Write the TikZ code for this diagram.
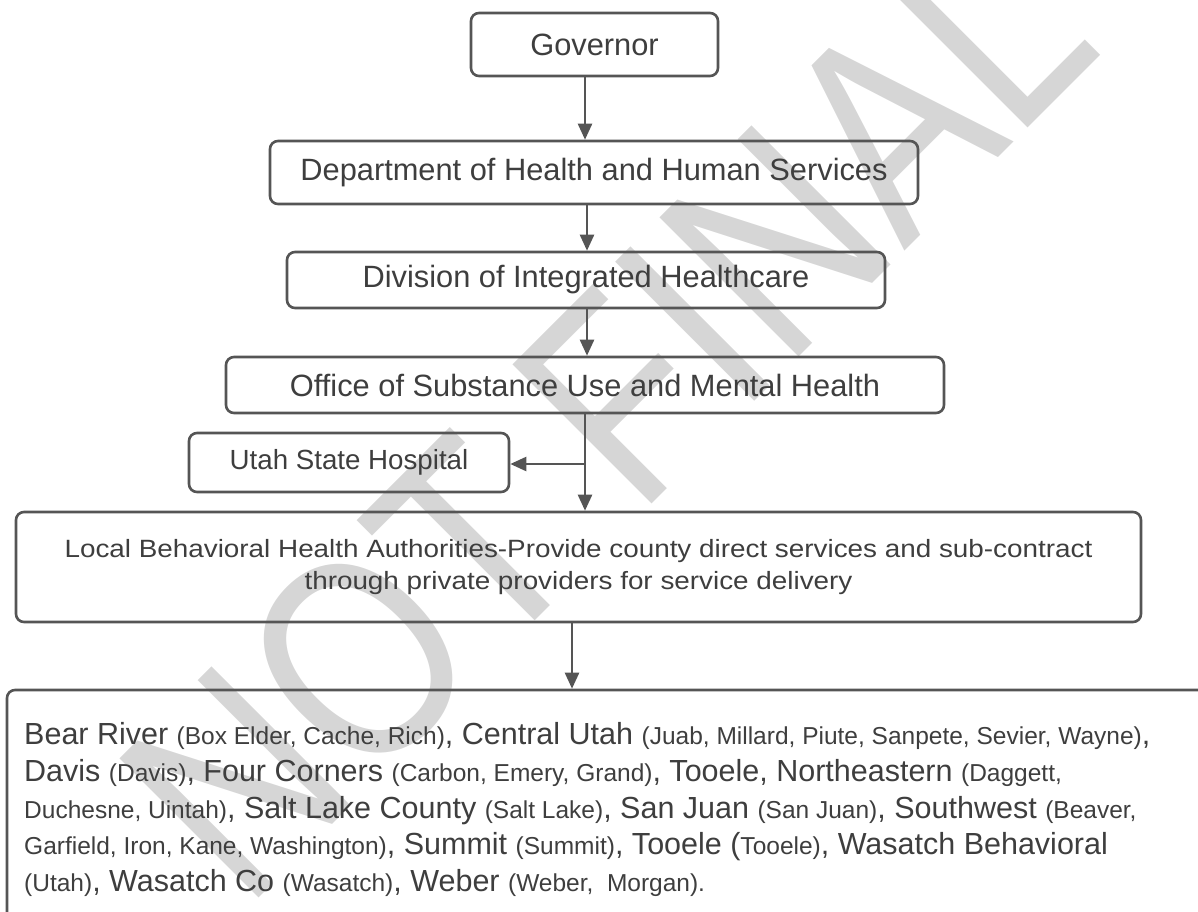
\documentclass[tikz,border=0pt]{standalone}
\usepackage{fontspec}
\setmainfont{Liberation Sans}
\usetikzlibrary{arrows.meta}
\definecolor{txt}{HTML}{3E3E3E}
\definecolor{bord}{HTML}{555555}
\definecolor{wm}{HTML}{D6D6D6}
\newcommand\Lrg[1]{{\fontsize{30.5}{36}\selectfont #1}}
\newcommand\Sml[1]{{\fontsize{24.5}{36}\selectfont #1}}
\begin{document}
\begin{tikzpicture}[x=1pt,y=-1pt,
  box/.style={draw=bord, line width=2.6pt, rounded corners=8pt, text=txt,
              inner sep=0pt, align=center},
  arr/.style={draw=bord, line width=2.4pt, -{Triangle[width=14pt,length=16pt]}},
  txtline/.style={anchor=base west, inner sep=0pt, text=txt},
  mainfont/.style={font=\fontsize{30.8}{36}\selectfont}]
\useasboundingbox (0,0) rectangle (1198,911);
\clip (0,0) rectangle (1198,911);
% watermark
\node[rotate=45, text=wm, inner sep=0pt, font=\fontsize{286}{286}\selectfont] (wmk) at (606,411) {\scalebox{0.815}[1]{NOT FINAL}};
% boxes
\node[box, mainfont, minimum width=247pt, minimum height=63pt] (gov) at (594.5,44.5) {Governor};
\node[box, mainfont, minimum width=648pt, minimum height=63pt] (dept) at (594,172.5) {Department of Health and Human Services};
\node[box, mainfont, minimum width=598pt, minimum height=56pt] (div) at (586,280) {Division of Integrated Healthcare};
\node[box, mainfont, minimum width=718pt, minimum height=56pt] (off) at (585,385) {Office of Substance Use and Mental Health};
\node[box, font=\fontsize{27.7}{32}\selectfont, minimum width=320pt, minimum height=59pt] (ush) at (349,462.5) {Utah State Hospital};
\node[box, minimum width=1125pt, minimum height=110pt] (lbha) at (578.5,567)
  {\fontsize{25}{32}\selectfont\scalebox{1.114}[1]{\begin{tabular}{@{}c@{}}Local Behavioral Health Authorities-Provide county direct services and sub-contract\\through private providers for service delivery\end{tabular}}};
\node[box, minimum width=1208pt, minimum height=240pt] (reg) at (611,810) {};
% region text
\node[txtline] (l1) at (24,744) {\Lrg{Bear River }\Sml{(Box Elder, Cache, Rich)}\Lrg{, Central Utah }\Sml{(Juab, Millard, Piute, Sanpete, Sevier, Wayne)}\Lrg{,}};
\node[txtline] (l2) at (24,781) {\Lrg{Davis }\Sml{(Davis)}\Lrg{, Four Corners }\Sml{(Carbon, Emery, Grand)}\Lrg{, Tooele, Northeastern }\Sml{(Daggett,}};
\node[txtline] (l3) at (24,818) {\Sml{Duchesne, Uintah)}\Lrg{, Salt Lake County }\Sml{(Salt Lake)}\Lrg{, San Juan }\Sml{(San Juan)}\Lrg{, Southwest }\Sml{(Beaver,}};
\node[txtline] (l4) at (24,854) {\Sml{Garfield, Iron, Kane, Washington)}\Lrg{, Summit }\Sml{(Summit)}\Lrg{, Tooele (}\Sml{Tooele)}\Lrg{, Wasatch Behavioral}};
\node[txtline] (l5) at (24,891) {\Sml{(Utah)}\Lrg{, Wasatch Co }\Sml{(Wasatch)}\Lrg{, Weber }\Sml{(Weber,\ \ Morgan).}};
% connectors
\coordinate (c1) at (585,0);
\coordinate (c2) at (587,0);
\coordinate (c3) at (585,464);
\coordinate (c4) at (572,0);
\draw[arr] (c1 |- gov.south) -- (c1 |- dept.north);
\draw[arr] (c2 |- dept.south) -- (c2 |- div.north);
\draw[arr] (c2 |- div.south) -- (c2 |- off.north);
\draw[arr] (c1 |- off.south) -- (c1 |- lbha.north);
\draw[arr] (c3) -- (c3 -| ush.east);
\draw[arr] (c4 |- lbha.south) -- (c4 |- reg.north);
\end{tikzpicture}
\end{document}
